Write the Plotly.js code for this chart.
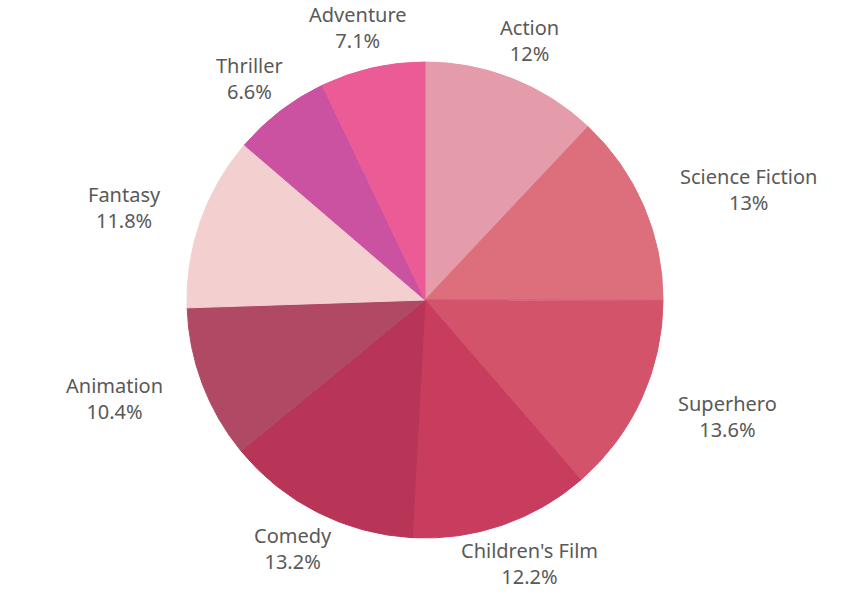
<!DOCTYPE html>
<html>
<head>
<meta charset="utf-8">
<script src="https://cdn.plot.ly/plotly-3.0.1.min.js"></script>
<style>html,body{margin:0;padding:0;background:#fff;}#chart{width:847px;height:606px;}</style>
</head>
<body>
<div id="chart"></div>
<script>
const genres = ["Action", "Science Fiction", "Superhero", "Children's Film", "Comedy", "Animation", "Fantasy", "Thriller", "Adventure"];
const shares = [12, 13, 13.6, 12.2, 13.2, 10.4, 11.8, 6.6, 7.1];
const colors = ["#E49BAA", "#DD6E7C", "#D3546A", "#C83C5E", "#B83558", "#B04A64", "#F4CFD0", "#CB52A0", "#EB5C96"];

const W = 847, H = 606;
const CX = 425, CY = 300, R = 238;
const FONT_SIZE = 20, FONT_FAMILY = 'Noto Sans';
const LABEL_R = 253, HALF_H = 26, SIDE_PAD = 28;

const pieTrace = {
  type: 'pie',
  labels: genres,
  values: shares,
  sort: false,
  direction: 'clockwise',
  rotation: 0,
  domain: {x: [(CX - R) / W, (CX + R) / W], y: [(H - CY - R) / H, (H - CY + R) / H]},
  marker: {colors: colors, line: {width: 1, color: colors}},
  textinfo: 'none',
  hoverinfo: 'none',
  showlegend: false
};

// label placement derived from the slice angles of the data
const ctx = document.createElement('canvas').getContext('2d');
ctx.font = FONT_SIZE + 'px "' + FONT_FAMILY + '"';
const total = shares.reduce((a, b) => a + b, 0);
let cum = 0;
const annotations = genres.map((g, i) => {
  const mid = (cum + shares[i] / 2) / total * 2 * Math.PI;
  cum += shares[i];
  const s = Math.sin(mid), c = Math.cos(mid);
  const txt2 = shares[i] + '%';
  const halfW = Math.max(ctx.measureText(g).width, ctx.measureText(txt2).width) / 2;
  const side = Math.min(1, Math.max(0, (Math.abs(s) - 0.6) / 0.3));
  const px = CX + s * LABEL_R + s * halfW + Math.sign(s) * SIDE_PAD * side;
  const py = CY - c * LABEL_R - c * HALF_H;
  return {
    xref: 'paper', yref: 'paper',
    x: px / W, y: 1 - py / H,
    xanchor: 'center', yanchor: 'middle',
    text: g + '<br>' + txt2,
    showarrow: false,
    align: 'center',
    font: {family: FONT_FAMILY + ', sans-serif', size: FONT_SIZE, color: '#595959'}
  };
});

Plotly.newPlot('chart', [pieTrace], {
  width: W,
  height: H,
  margin: {l: 0, r: 0, t: 0, b: 0},
  paper_bgcolor: '#ffffff',
  annotations: annotations,
  font: {family: FONT_FAMILY + ', sans-serif', size: FONT_SIZE, color: '#595959'}
}, {displayModeBar: false, staticPlot: true});
</script>
</body>
</html>
